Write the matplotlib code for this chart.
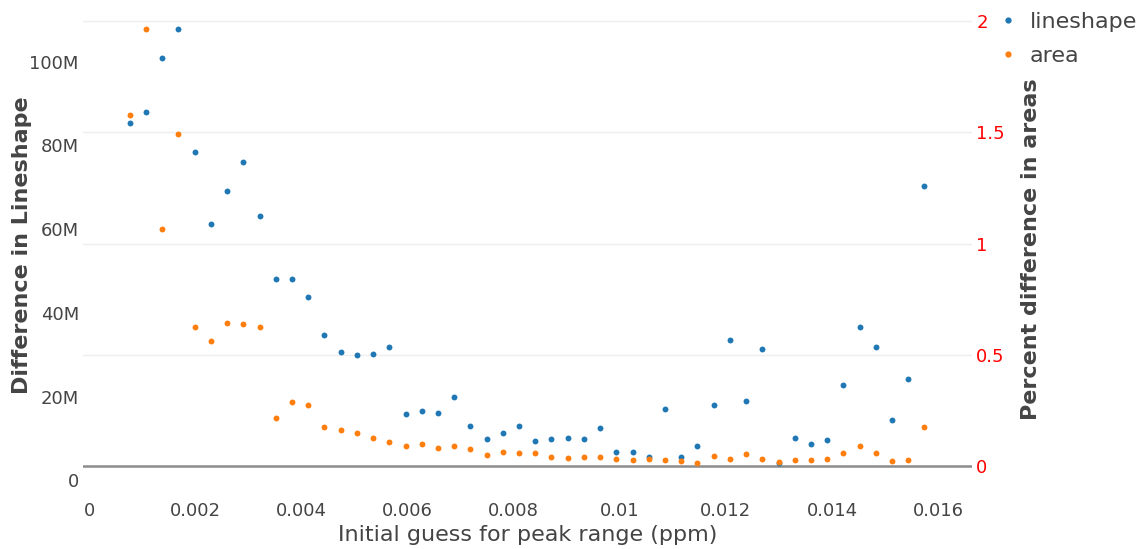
import matplotlib
matplotlib.use("Agg")
import matplotlib.pyplot as plt
from matplotlib.lines import Line2D
from matplotlib.transforms import blended_transform_factory

plt.rcParams['font.family'] = ['DejaVu Sans']

# initial guess for the peak range (ppm)
peak_range = [0.00076, 0.001066, 0.001372, 0.001677, 0.001983, 0.002289, 0.002595,
              0.002901, 0.003206, 0.003512, 0.003818, 0.004124, 0.004430, 0.004735,
              0.005041, 0.005347, 0.005653, 0.005959, 0.006264, 0.006570, 0.006876,
              0.007182, 0.007488, 0.007793, 0.008099, 0.008405, 0.008711, 0.009017,
              0.009322, 0.009628, 0.009934, 0.010240, 0.010546, 0.010851, 0.011157,
              0.011463, 0.011769, 0.012075, 0.012380, 0.012686, 0.012992, 0.013298,
              0.013604, 0.013909, 0.014215, 0.014521, 0.014827, 0.015133, 0.015438,
              0.015744]

# difference in lineshape
lineshape = [85.3e6, 88.1e6, 100.8e6, 107.7e6, 78.5e6, 61.2e6, 69.2e6, 76.1e6, 63.2e6,
             48.0e6, 48.2e6, 43.9e6, 34.7e6, 30.6e6, 30.0e6, 30.2e6, 31.9e6, 15.9e6,
             16.5e6, 16.0e6, 19.9e6, 13.0e6, 9.8e6, 11.4e6, 13.0e6, 9.4e6, 9.9e6, 10.1e6,
             10.0e6, 12.6e6, 6.8e6, 6.7e6, 5.7e6, 17.0e6, 5.6e6, 8.2e6, 18.0e6, 33.6e6,
             19.0e6, 31.5e6, 4.2e6, 10.1e6, 8.7e6, 9.7e6, 22.8e6, 36.6e6, 31.9e6, 14.5e6,
             24.2e6, 70.2e6]

# percent difference in areas
area = [1.579, 1.964, 1.066, 1.491, 0.628, 0.561, 0.642, 0.640, 0.628, 0.215, 0.290,
        0.275, 0.177, 0.165, 0.152, 0.127, 0.109, 0.092, 0.100, 0.083, 0.091, 0.079,
        0.049, 0.065, 0.061, 0.059, 0.043, 0.037, 0.040, 0.040, 0.032, 0.028, 0.034,
        0.029, 0.022, 0.017, 0.047, 0.032, 0.055, 0.034, 0.019, 0.028, 0.028, 0.032,
        0.059, 0.093, 0.058, 0.023, 0.029, 0.177]

left_ticks = [0, 20e6, 40e6, 60e6, 80e6, 100e6]
left_labels = ['0', '20M', '40M', '60M', '80M', '100M']
right_ticks = [0, 0.5, 1, 1.5, 2]
right_labels = ['0', '0.5', '1', '1.5', '2']
x_ticks = [0, 0.002, 0.004, 0.006, 0.008, 0.01, 0.012, 0.014, 0.016]
x_labels = ['0', '0.002', '0.004', '0.006', '0.008', '0.01', '0.012', '0.014', '0.016']

BLUE = '#1f77b4'
ORANGE = '#ff7f0e'
GREY = '#444444'

fig = plt.figure(figsize=(11.4, 5.49), dpi=100)
ax = fig.add_axes([83 / 1140, 1 - 483 / 549, 889 / 1140, 472 / 549])
ax2 = ax.twinx()

ax.set_xlim(-0.000122, 0.01664)
ax.set_ylim(-0.6e6, 112.1e6)
ax2.set_ylim(-0.0746, 2.0445)

# grid of the right axis, drawn under every marker
blend = blended_transform_factory(ax.transAxes, ax2.transData)
for v in right_ticks[1:]:
    ax.plot([0, 1], [v, v], transform=blend, color='#eeeeee', lw=1, zorder=0)
ax.plot([0, 1], [0, 0], transform=blend, color='#8c8c8c', lw=1.8, zorder=0)

ax.scatter(peak_range, lineshape, s=18, color=BLUE, linewidths=0, zorder=2)
ax2.scatter(peak_range, area, s=18, color=ORANGE, linewidths=0, zorder=2)

for a in (ax, ax2):
    for s in a.spines.values():
        s.set_visible(False)
    a.tick_params(length=0)

ax.set_xticks(x_ticks)
ax.set_xticklabels(x_labels, fontsize=13, color=GREY)
ax.tick_params(axis='x', pad=14)
ax.set_yticks(left_ticks)
ax.set_yticklabels(left_labels, fontsize=13, color=GREY)
ax.tick_params(axis='y', pad=3)
ax2.set_yticks(right_ticks)
ax2.set_yticklabels(right_labels, fontsize=13, color='red')
ax2.tick_params(axis='y', pad=3)

ax.set_xlabel('Initial guess for peak range (ppm)', fontsize=16, color=GREY)
ax.set_ylabel('Difference in Lineshape', fontsize=16, fontweight='bold', color=GREY)
ax2.set_ylabel('Percent difference in areas', fontsize=16, fontweight='bold', color=GREY)
ax.xaxis.set_label_coords(0.5006, -0.110)
ax.yaxis.set_label_coords(-0.069, 0.504)
ax2.yaxis.set_label_coords(1.066, 0.495)
for lab in (ax.xaxis.label, ax.yaxis.label, ax2.yaxis.label):
    lab.set_verticalalignment('center')
    lab.set_horizontalalignment('center')

handles = [Line2D([], [], ls='none', marker='o', ms=4.5, mew=0, color=BLUE),
           Line2D([], [], ls='none', marker='o', ms=4.5, mew=0, color=ORANGE)]
leg = fig.legend(handles, ['lineshape', 'area'], loc='upper left',
                 bbox_to_anchor=(995 / 1140, 1 - 12 / 549), frameon=False,
                 fontsize=16, handlelength=1.2, handletextpad=0.35,
                 labelspacing=0.62, borderpad=0, borderaxespad=0)
for t in leg.get_texts():
    t.set_color(GREY)

fig.savefig('out.png', dpi=100)
